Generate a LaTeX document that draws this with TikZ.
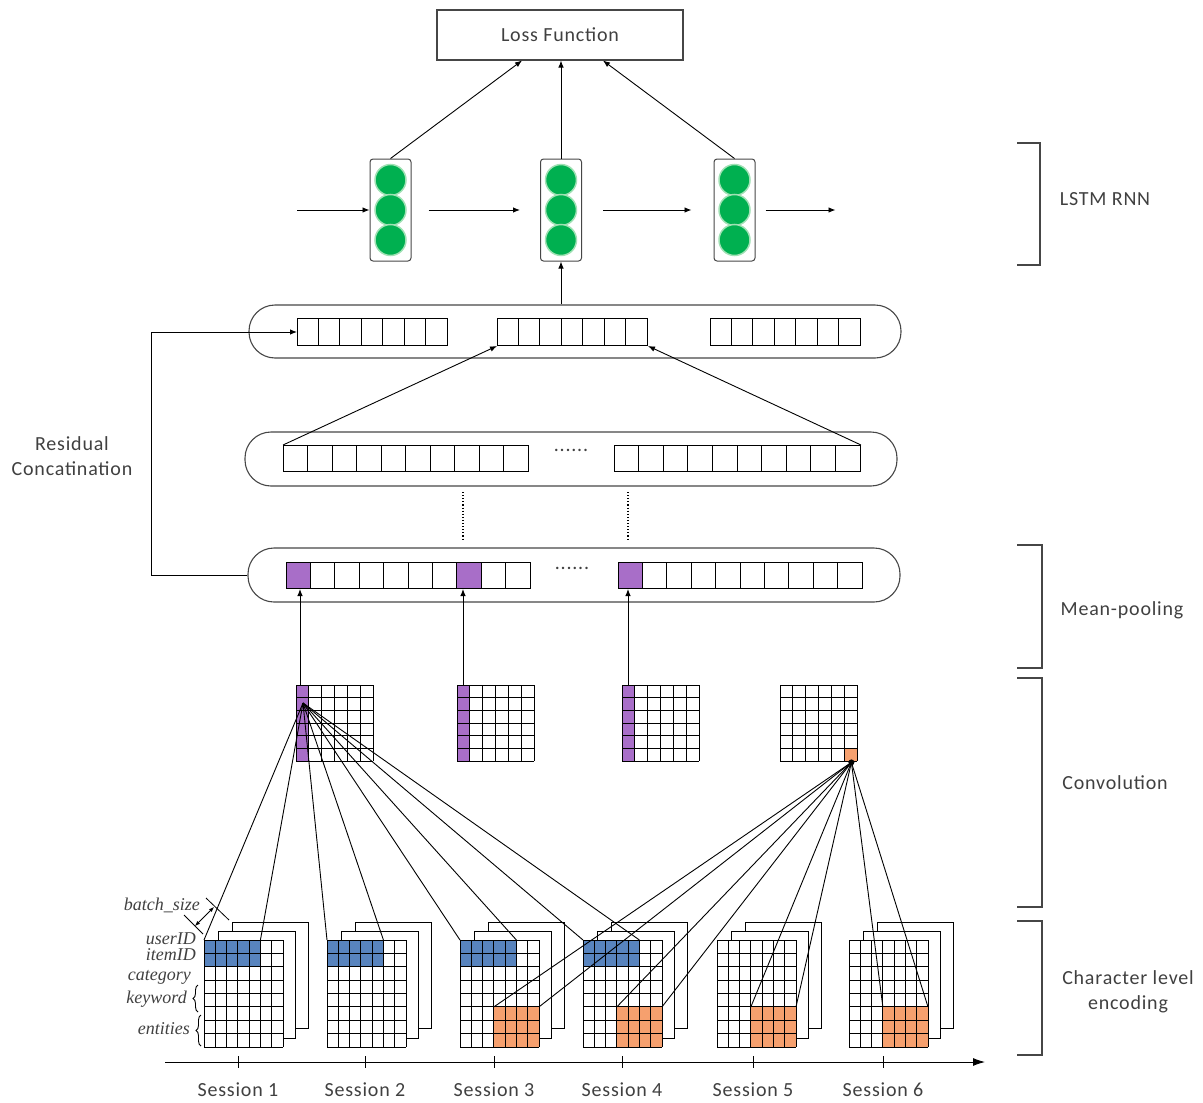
\documentclass[tikz,border=0pt]{standalone}
\usepackage{fontspec}
\setmainfont{Carlito}[LetterSpace=4]
\newfontfamily\serifit{Liberation Serif}
\usetikzlibrary{arrows.meta,decorations.pathreplacing,calc}
\definecolor{lstmgreen}{RGB}{0,176,80}
\definecolor{lstmring}{RGB}{160,225,180}
\definecolor{cellpurple}{RGB}{168,110,200}
\definecolor{cellblue}{RGB}{88,132,190}
\definecolor{cellorange}{RGB}{246,160,110}
\definecolor{txtgray}{RGB}{64,64,64}
\definecolor{framegray}{RGB}{70,70,70}

\tikzset{
  conn/.style={-{Latex[length=7pt,width=5.5pt]}, line width=0.9pt, black},
  bigconn/.style={-{Latex[length=12pt,width=8pt]}, line width=0.9pt, black},
  wire/.style={line width=0.9pt, black},
  capsule/.style={draw=framegray, line width=1.1pt, rounded corners=26pt, inner sep=0pt},
  vecbox/.style={draw, line width=1pt, inner sep=0pt, anchor=north west},
  cellline/.style={line width=1pt, black},
  sheet/.style={draw, fill=white, line width=1pt},
  lstmcell/.style={draw=framegray, line width=1pt, rounded corners=3pt, minimum width=41pt, minimum height=102pt, inner sep=0pt},
  neuron/.style={circle, fill=lstmgreen, draw=lstmring, line width=1.5pt, minimum size=31pt, inner sep=0pt},
  lbl/.style={font=\fontsize{20}{25}\selectfont, text=txtgray, inner sep=0pt},
  itlbl/.style={font=\serifit\itshape\fontsize{18}{20}\selectfont, text=txtgray, inner sep=0pt, anchor=east},
  bracket/.style={draw=framegray, line width=1.5pt},
  brc/.style={decorate, decoration={brace, amplitude=5pt}, line width=0.9pt, black},
  dimarrow/.style={{Latex[length=5pt,width=4pt]}-{Latex[length=5pt,width=4pt]}, line width=0.8pt, black},
}

% vector of cells: name, x, y, width, height, n
\newcommand\vecrow[6]{%
  \node[vecbox, minimum width=#4pt, minimum height=#5pt] (#1) at (#2,#3) {};
  \pgfmathtruncatemacro\vlast{#6-1}%
  \foreach \i in {1,...,\vlast}
    \draw[cellline] ({#2+\i*#4/#6},#3) -- ({#2+\i*#4/#6},{#3+#5});
}

% convolution grid: name, x, purple column (1/0), orange corner (1/0)
\newcommand\cgrid[4]{%
  \node[anchor=north west, minimum width=77pt, minimum height=76pt, inner sep=0pt] (#1) at (#2,685) {};
  \ifnum#3=1 \fill[cellpurple] (#2,685) rectangle ++({77/6},76); \fi
  \ifnum#4=1 \fill[cellorange] ({#2+5*77/6},{685+5*76/6}) rectangle ({#2+77},761); \fi
  \foreach \i in {0,...,6}
    \draw[cellline] ({#2+\i*77/6},685) -- ({#2+\i*77/6},761);
  \foreach \j in {0,...,6}
    \draw[cellline] (#2,{685+\j*76/6}) -- ({#2+77},{685+\j*76/6});
}

% session stack: name, x, blue (1/0), orange (1/0)
\newcommand\sessgrid[4]{%
  \draw[sheet] (#2+28,922.5) rectangle ++(76,106);
  \draw[sheet] (#2+14,931.5) rectangle ++(77,107);
  \node[anchor=north west, minimum width=79pt, minimum height=107pt, inner sep=0pt, fill=white] (#1) at (#2,940) {};
  \ifnum#3=1 \fill[cellblue] (#2,940) rectangle ({#2+5*79/7},{940+2*107/8}); \fi
  \ifnum#4=1 \fill[cellorange] ({#2+3*79/7},{940+5*107/8}) rectangle ({#2+79},1047); \fi
  \foreach \i in {0,...,7}
    \draw[cellline] ({#2+\i*79/7},940) -- ({#2+\i*79/7},1047);
  \foreach \j in {0,...,8}
    \draw[cellline] (#2,{940+\j*107/8}) -- ({#2+79},{940+\j*107/8});
}

\begin{document}
\begin{tikzpicture}[x=1pt,y=-1pt]
\useasboundingbox (0,0) rectangle (1203,1103);

% ---------- Loss function ----------
\node[lbl, draw=framegray, line width=1.1pt, minimum width=246pt, minimum height=50pt] (loss) at (560,35) {Loss Function};

% ---------- LSTM cells ----------
\foreach \n/\x in {1/390.5, 2/561, 3/734.5} {
  \node[lstmcell] (l\n) at (\x,210) {};
  \node[neuron] (l\n-a) at (\x,180) {};
  \node[neuron] (l\n-b) at (\x,210) {};
  \node[neuron] (l\n-c) at (\x,240) {};
}
\coordinate (in0) at (297,210);
\draw[conn] (in0) -- (l1.west);
\draw[conn] ($(l1.east)+(17,0)$) -- ($(l2.west)+(-20,0)$);
\draw[conn] ($(l2.east)+(21,0)$) -- ($(l3.west)+(-22,0)$);
\draw[conn] ($(l3.east)+(10,0)$) -- ($(l3.east)+(80,0)$);

\draw[conn] (l1.north) -- ($(loss.south)+(-38,0)$);
\draw[conn] (l2.north) -- (l2.north |- loss.south);
\draw[conn] (l3.north) -- ($(loss.south)+(43,0)$);

% ---------- top capsule ----------
\node[capsule, minimum width=652pt, minimum height=53pt] (cap1) at (575,331.5) {};
\vecrow{tv1}{297}{318}{150}{27}{7}
\vecrow{tv2}{497}{318}{150}{27}{7}
\vecrow{tv3}{710}{318}{150}{27}{7}
\draw[conn] (l2.south |- cap1.north) -- (l2.south);

% ---------- middle capsule ----------
\node[capsule, minimum width=652pt, minimum height=54pt] (cap2) at (571,459) {};
\vecrow{mv1}{283}{445}{245}{26}{10}
\vecrow{mv2}{614}{445}{246}{26}{10}
\node[lbl] (dots2) at (571,450) {......};
\draw[conn] (mv1.north west) -- (tv2.south west);
\draw[conn] (mv2.north east) -- (tv2.south east);

% ---------- mean-pooling capsule ----------
\node[capsule, minimum width=652pt, minimum height=54pt] (cap3) at (574,575) {};
\vecrow{pv1}{286}{562}{244}{26}{10}
\vecrow{pv2}{618}{562}{244}{26}{10}
\draw[cellline, fill=cellpurple] (286,562) rectangle ++(24.4,26);
\draw[cellline, fill=cellpurple] (456.8,562) rectangle ++(24.4,26);
\draw[cellline, fill=cellpurple] (618,562) rectangle ++(24.4,26);
\node[lbl] (dots3) at (572,568) {......};

% dotted continuation lines
\coordinate (d1a) at (463,492); \coordinate (d1b) at (463,540);
\coordinate (d2a) at (628,492); \coordinate (d2b) at (628,540);
\draw[dotted, line width=1.1pt] (d1a) -- (d1b);
\draw[dotted, line width=1.1pt] (d2a) -- (d2b);

% residual concatenation
\draw[conn] (cap3.west) -- ++(-96,0) |- (tv1.west);
\node[lbl, align=center] (resid) at (72,456) {Residual\\Concatination};

% ---------- convolution grids ----------
\cgrid{cg1}{296}{1}{0}
\cgrid{cg2}{457}{1}{0}
\cgrid{cg3}{622}{1}{0}
\cgrid{cg4}{780}{0}{1}

\coordinate (u1) at ($(cg1.north west)+(4,0)$);
\coordinate (u2) at ($(cg2.north west)+(6,0)$);
\coordinate (u3) at ($(cg3.north west)+(6,0)$);
\draw[conn] (u1) -- (u1 |- pv1.south);
\draw[conn] (u2) -- (u2 |- pv1.south);
\draw[conn] (u3) -- (u3 |- pv2.south);

% ---------- session stacks ----------
\sessgrid{sg1}{204}{1}{0}
\sessgrid{sg2}{327}{1}{0}
\sessgrid{sg3}{460}{1}{1}
\sessgrid{sg4}{583}{1}{1}
\sessgrid{sg5}{717}{0}{1}
\sessgrid{sg6}{849}{0}{1}

% convolution receptive-field lines
\coordinate (o1) at ($(cg1.north west)+(7,18)$);
\foreach \k in {1,...,4} {
  \draw[wire] (o1) -- (sg\k.north west);
  \draw[wire] (o1) -- ($(sg\k.north west)+({5*79/7},0)$);
}
\coordinate (o4) at ($(cg4.south east)+(-6,1)$);
\foreach \k in {3,...,6} {
  \draw[wire] (o4) -- ($(sg\k.north west)+({3*79/7},{5*107/8})$);
  \draw[wire] (o4) -- ($(sg\k.north west)+(79,{5*107/8})$);
}
\fill (o4) circle (3pt);

% ---------- row labels ----------
\node[itlbl] (bs) at (200,905) {batch\_size};
\node[itlbl] (uid) at (196,939) {userID};
\node[itlbl] (iid) at (196,955) {itemID};
\node[itlbl] (cat) at (191,977) {category};
\node[itlbl] (kw) at (187,999) {keyword};
\node[itlbl] (ent) at (190,1029) {entities};
\draw[brc] (198,1012) -- (198,985);
\draw[brc] (201,1046) -- (201,1015);

% batch size dimension
\draw[wire, line width=0.8pt] (184,915) -- (203,934);
\draw[wire, line width=0.8pt] (206,898) -- (229,920);
\draw[dimarrow] (195,926) -- (214,907);

% ---------- session axis ----------
\coordinate (ax0) at (165,1062);
\coordinate (ax1) at (985,1062);
\draw[bigconn] (ax0) -- (ax1);
\foreach \k/\x in {1/238,2/365,3/494,4/622,5/753,6/883} {
  \draw[wire] (\x,1056) -- (\x,1068);
  \node[lbl] (s\k) at (\x,1090) {Session \k};
}

% ---------- right brackets ----------
\draw[bracket] (1017,143) -- (1040,143) -- (1040,265) -- (1017,265);
\draw[bracket] (1017,545) -- (1042,545) -- (1042,668) -- (1017,668);
\draw[bracket] (1017,678) -- (1042,678) -- (1042,907) -- (1017,907);
\draw[bracket] (1017,921) -- (1042,921) -- (1042,1055) -- (1017,1055);
\node[lbl] (lstm) at (1105,199) {LSTM RNN};
\node[lbl] (mp) at (1122,610) {Mean-pooling};
\node[lbl] (cv) at (1115,783) {Convolution};
\node[lbl, align=center] (ce) at (1128,992) {Character level\\encoding};
\end{tikzpicture}
\end{document}
